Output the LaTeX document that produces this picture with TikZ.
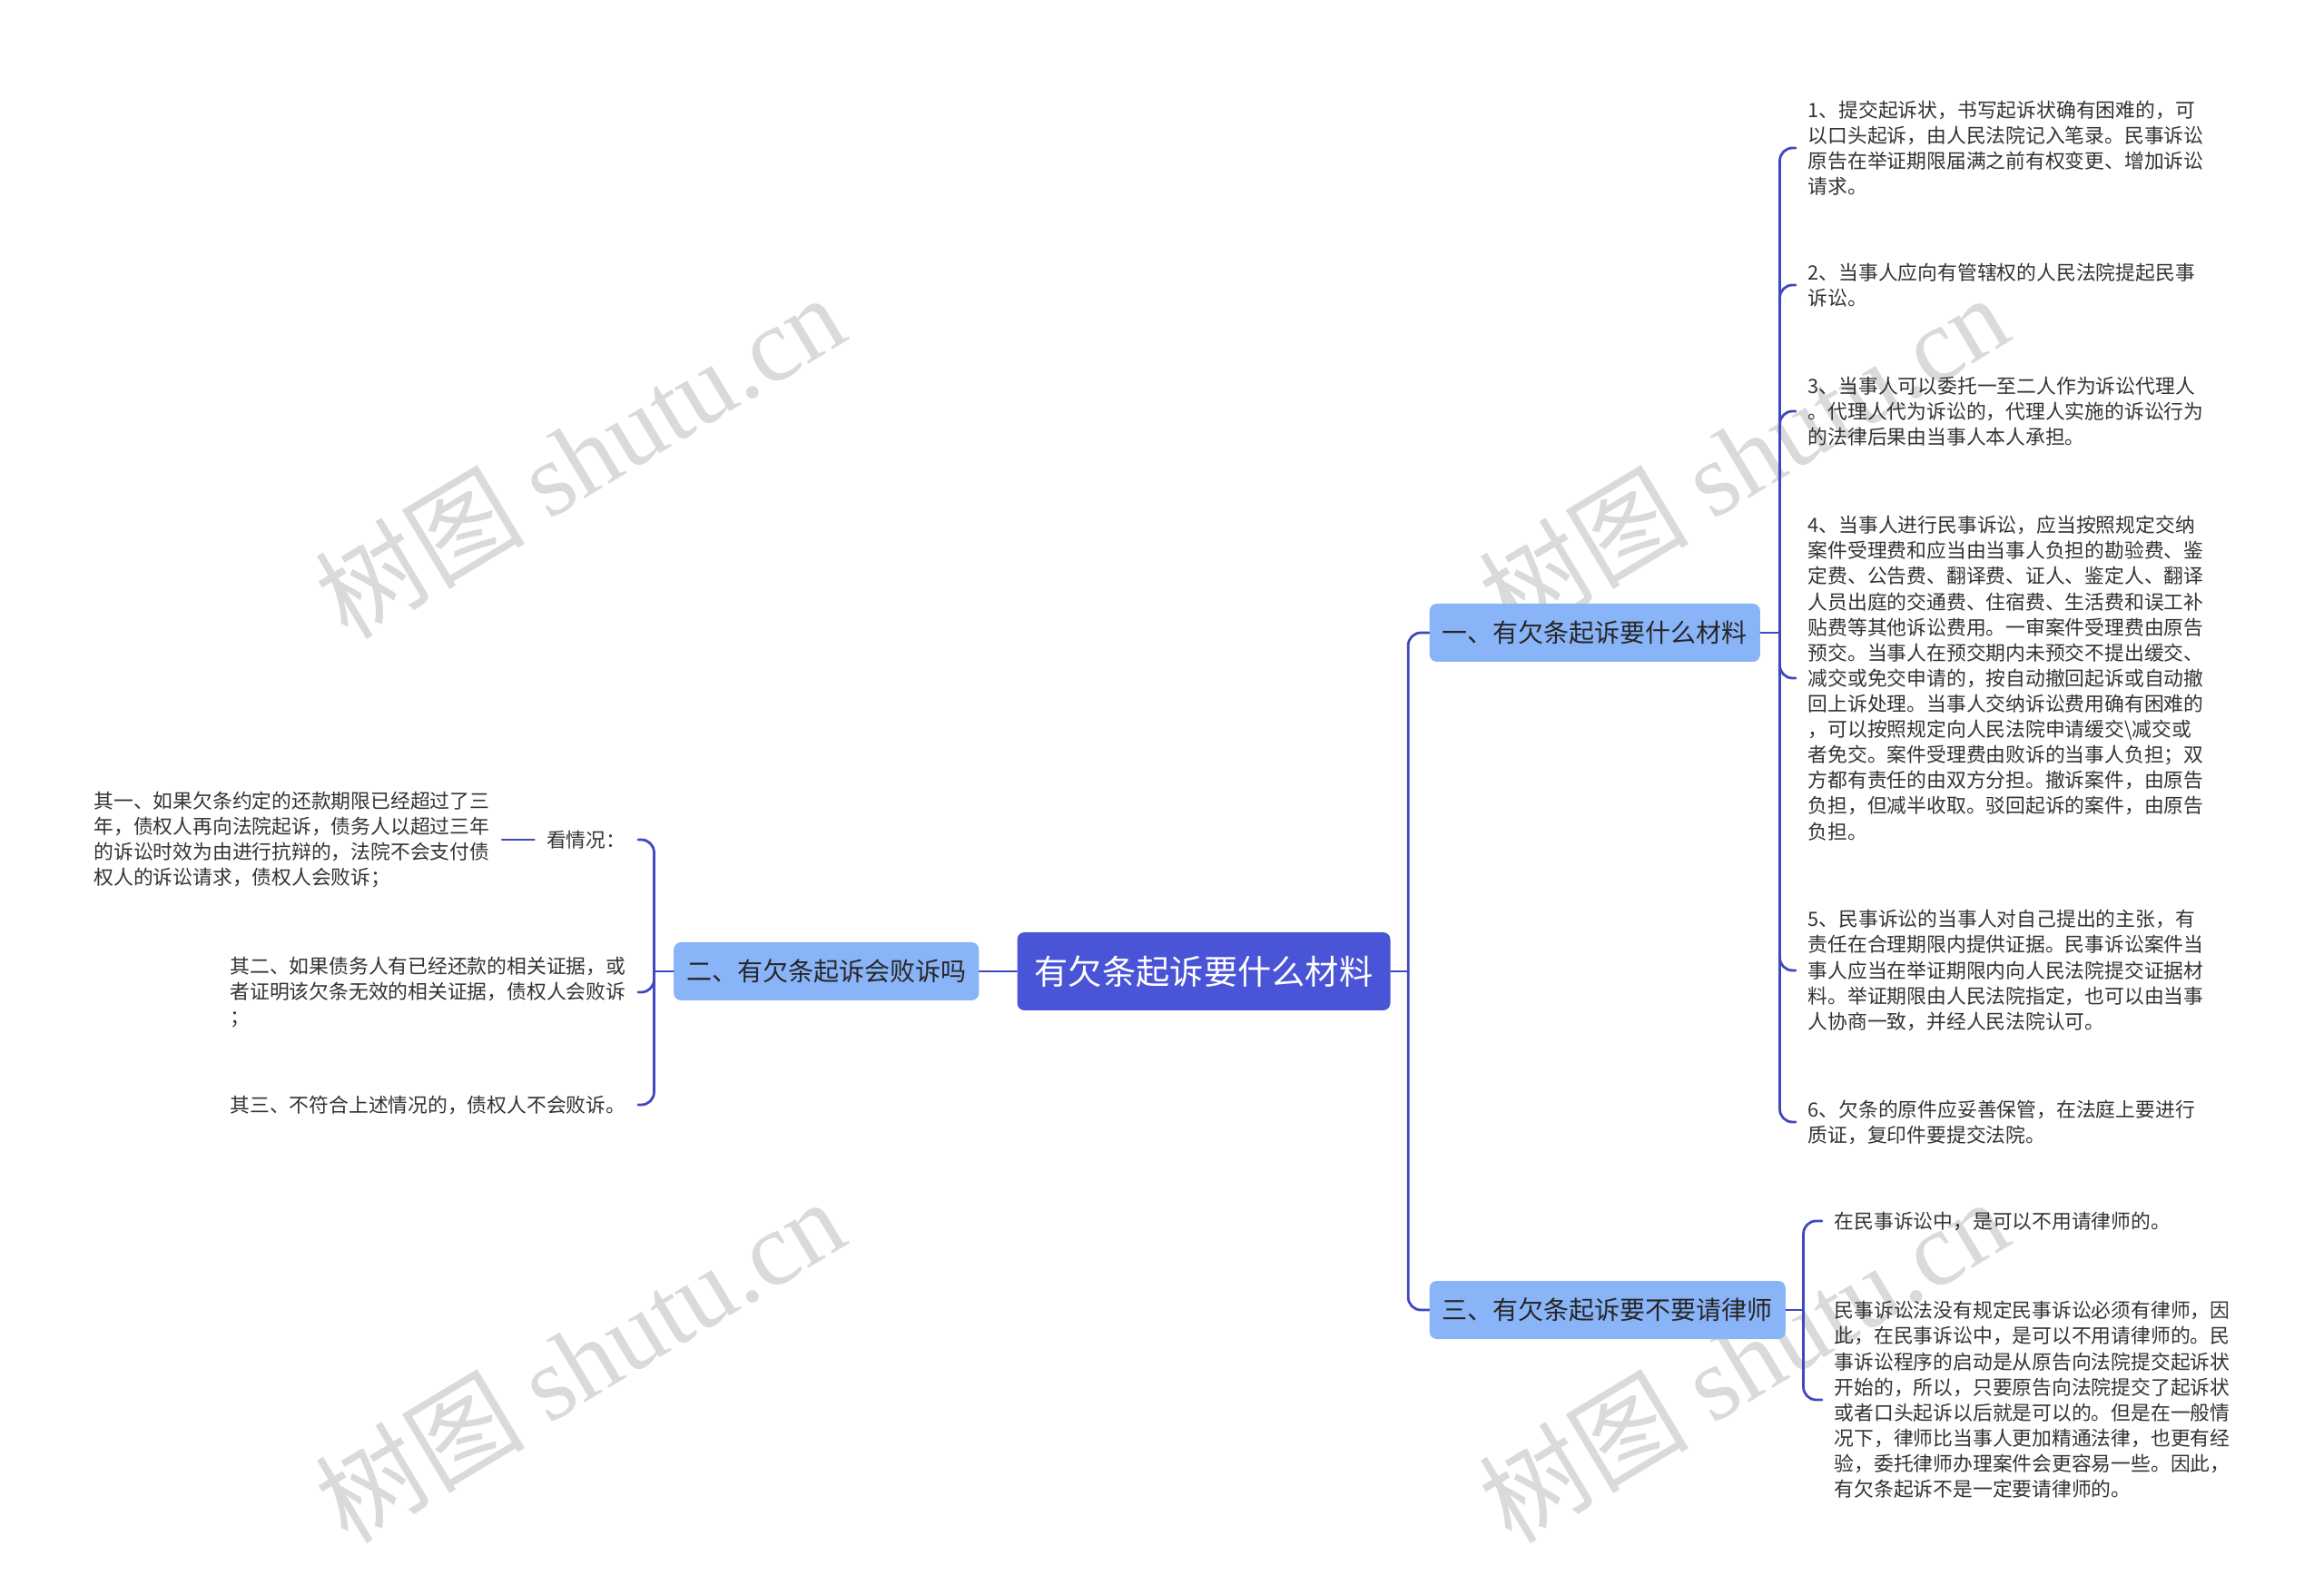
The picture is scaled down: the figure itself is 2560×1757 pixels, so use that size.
\documentclass[tikz,border=0pt]{standalone}
\usepackage{fontspec}
\setmainfont{Noto Sans CJK SC}
\newfontfamily\marklatin{Liberation Serif}
\usetikzlibrary{positioning}
\definecolor{rootblue}{RGB}{74,84,214}
\definecolor{linkblue}{RGB}{64,72,190}
\definecolor{branchblue}{RGB}{138,180,248}
\definecolor{leafgray}{RGB}{51,51,51}
\definecolor{markgray}{RGB}{218,218,218}

\begin{document}
\begin{tikzpicture}[x=0.1mm,y=-0.1mm,line cap=round,line join=round,
  rootbox/.style={fill=rootblue,rounded corners=0.8mm,text=white,
    font=\fontsize{10.6}{12}\selectfont,minimum width=41.1mm,minimum height=8.6mm,inner sep=0pt},
  branchbox/.style={fill=branchblue,rounded corners=0.8mm,text=black!85,
    font=\fontsize{7.97}{9}\selectfont,minimum height=6.4mm,inner xsep=1.4mm,inner ysep=0pt},
  leaf/.style={text=leafgray,font=\fontsize{6.2}{8}\selectfont,align=left,inner xsep=1.3mm,inner ysep=0pt},
  link/.style={draw=linkblue,line width=0.28mm},
  elbow/.style={link,rounded corners=1.4mm},
  watermark/.style={text=markgray,rotate=31,font=\fontsize{33}{33}\selectfont}]
 \useasboundingbox (0,0) rectangle (2560,1757);
 \node[watermark] (wm1) at (638,502) {树图 {\marklatin shutu.cn}};
 \node[watermark] (wm2) at (1920,502) {树图 {\marklatin shutu.cn}};
 \node[watermark] (wm3) at (638,1498) {树图 {\marklatin shutu.cn}};
 \node[watermark] (wm4) at (1920,1498) {树图 {\marklatin shutu.cn}};

 \node[rootbox] (root) at (1326,1070) {有欠条起诉要什么材料};
 \node[branchbox,anchor=west] (b1) at (1574,697) {一、有欠条起诉要什么材料};
 \node[branchbox,anchor=east] (b2) at (1079,1070) {二、有欠条起诉会败诉吗};
 \node[branchbox,anchor=west] (b3) at (1574,1443) {三、有欠条起诉要不要请律师};

 \node[leaf,anchor=west] (l1) at (1978,163) {1、提交起诉状，书写起诉状确有困难的，可\\
  以口头起诉，由人民法院记入笔录。民事诉讼\\
  原告在举证期限届满之前有权变更、增加诉讼\\
  请求。};
 \node[leaf,anchor=west] (l2) at (1978,314) {2、当事人应向有管辖权的人民法院提起民事\\
  诉讼。};
 \node[leaf,anchor=west] (l3) at (1978,453) {3、当事人可以委托一至二人作为诉讼代理人\\
  。代理人代为诉讼的，代理人实施的诉讼行为\\
  的法律后果由当事人本人承担。};
 \node[leaf,anchor=west] (l4) at (1978,747) {4、当事人进行民事诉讼，应当按照规定交纳\\
  案件受理费和应当由当事人负担的勘验费、鉴\\
  定费、公告费、翻译费、证人、鉴定人、翻译\\
  人员出庭的交通费、住宿费、生活费和误工补\\
  贴费等其他诉讼费用。一审案件受理费由原告\\
  预交。当事人在预交期内未预交不提出缓交、\\
  减交或免交申请的，按自动撤回起诉或自动撤\\
  回上诉处理。当事人交纳诉讼费用确有困难的\\
  ，可以按照规定向人民法院申请缓交\textbackslash{}减交或\\
  者免交。案件受理费由败诉的当事人负担；双\\
  方都有责任的由双方分担。撤诉案件，由原告\\
  负担，但减半收取。驳回起诉的案件，由原告\\
  负担。};
 \node[leaf,anchor=west] (l5) at (1978,1069) {5、民事诉讼的当事人对自己提出的主张，有\\
  责任在合理期限内提供证据。民事诉讼案件当\\
  事人应当在举证期限内向人民法院提交证据材\\
  料。举证期限由人民法院指定，也可以由当事\\
  人协商一致，并经人民法院认可。};
 \node[leaf,anchor=west] (l6) at (1978,1236) {6、欠条的原件应妥善保管，在法庭上要进行\\
  质证，复印件要提交法院。};

 \node[leaf,anchor=west] (m1) at (2007,1345) {在民事诉讼中，是可以不用请律师的。};
 \node[leaf,anchor=west] (m2) at (2007,1542) {民事诉讼法没有规定民事诉讼必须有律师，因\\
  此，在民事诉讼中，是可以不用请律师的。民\\
  事诉讼程序的启动是从原告向法院提交起诉状\\
  开始的，所以，只要原告向法院提交了起诉状\\
  或者口头起诉以后就是可以的。但是在一般情\\
  况下，律师比当事人更加精通法律，也更有经\\
  验，委托律师办理案件会更容易一些。因此，\\
  有欠条起诉不是一定要请律师的。};

 \node[leaf,anchor=east] (k) at (703,925) {看情况：};
 \node[leaf,anchor=east] (q1) at (553,925) {其一、如果欠条约定的还款期限已经超过了三\\
  年，债权人再向法院起诉，债务人以超过三年\\
  的诉讼时效为由进行抗辩的，法院不会支付债\\
  权人的诉讼请求，债权人会败诉；};
 \node[leaf,anchor=east] (q2) at (703,1093) {其二、如果债务人有已经还款的相关证据，或\\
  者证明该欠条无效的相关证据，债权人会败诉\\
  ；};
 \node[leaf,anchor=east] (q3) at (703,1217) {其三、不符合上述情况的，债权人不会败诉。};

 \draw[link] (root.east) -- ++(19,0) coordinate (jr);
 \draw[elbow] (jr) |- (b1.west);
 \draw[elbow] (jr) |- (b3.west);
 \draw[link] (root.west) -- (b2.east);

 \draw[link] (b1.east) -- ++(21,0) coordinate (j1);
 \foreach \n in {l1,l2,l3,l4,l5,l6}
  \draw[elbow] (j1) |- (\n.west);

 \draw[link] (b3.east) -- ++(19,0) coordinate (j3);
 \foreach \n in {m1,m2}
  \draw[elbow] (j3) |- (\n.west);

 \draw[link] (b2.west) -- ++(-21,0) coordinate (j2);
 \foreach \n in {k,q2,q3}
  \draw[elbow] (j2) |- (\n.east);
 \draw[link] (k.west) -- (q1.east);
\end{tikzpicture}
\end{document}
